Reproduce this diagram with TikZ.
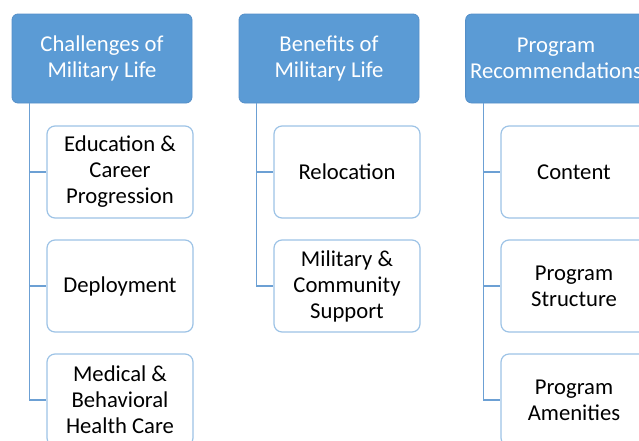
\documentclass[tikz,border=0pt]{standalone}
\usepackage{fontspec}
\setmainfont{Carlito}
\usepackage{xcolor}

\definecolor{hdrblue}{RGB}{91,155,213}
\definecolor{hdrline}{RGB}{84,143,200}
\definecolor{boxline}{RGB}{157,195,230}
\definecolor{linkblue}{RGB}{108,160,212}

\tikzset{
  hdr/.style={draw=hdrline, fill=hdrblue, text=white, rounded corners=4.5pt,
    minimum width=135pt, minimum height=66.75pt, align=center, line width=0.6pt,
    font=\fontsize{17}{19.5}\selectfont},
  item/.style={draw=boxline, fill=white, text=black, rounded corners=6pt,
    minimum width=109.5pt, minimum height=69pt, align=center, line width=0.9pt,
    font=\fontsize{17}{19.5}\selectfont},
  link/.style={draw=linkblue, line width=0.9pt}
}

\begin{document}
\begin{tikzpicture}[x=0.75pt,y=-0.75pt]
\path[use as bounding box, clip] (0,0) rectangle (639,440);

% column headers
\node[hdr] (chal) at (102,58.5) {Challenges of\\Military Life};
\node[hdr] (bene) at (329,58.5) {Benefits of\\Military Life};
\node[hdr] (prog) at (556,58.5) {Program\\Recommendations};

% challenges
\node[item] (edu) at (120,172) {Education \&\\Career\\Progression};
\node[item] (depl) at (120,286) {Deployment};
\node[item] (med) at (120,400) {Medical \&\\Behavioral\\Health Care};

% benefits
\node[item] (reloc) at (347,172) {Relocation};
\node[item] (supp) at (347,286) {Military \&\\Community\\Support};

% recommendations
\node[item] (cont) at (574,172) {Content};
\node[item] (struct) at (574,286) {Program\\Structure};
\node[item] (amen) at (574,400) {Program\\Amenities};

% connectors
\draw[link] ([xshift=13.5pt]chal.south west) |- (edu.west);
\draw[link] ([xshift=13.5pt]chal.south west) |- (depl.west);
\draw[link] ([xshift=13.5pt]chal.south west) |- (med.west);
\draw[link] ([xshift=13.5pt]bene.south west) |- (reloc.west);
\draw[link] ([xshift=13.5pt]bene.south west) |- (supp.west);
\draw[link] ([xshift=13.5pt]prog.south west) |- (cont.west);
\draw[link] ([xshift=13.5pt]prog.south west) |- (struct.west);
\draw[link] ([xshift=13.5pt]prog.south west) |- (amen.west);
\end{tikzpicture}
\end{document}
